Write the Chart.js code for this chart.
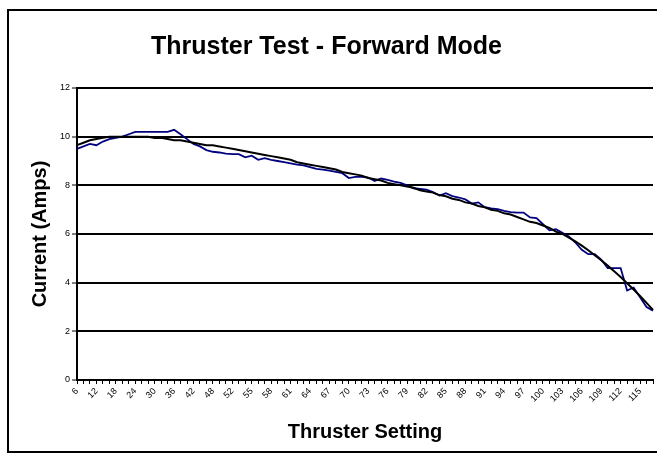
<!DOCTYPE html>
<html>
<head>
<meta charset="utf-8">
<script src="https://cdn.jsdelivr.net/npm/chart.js@4.4.1/dist/chart.umd.min.js"></script>
<style>
  html, body { margin: 0; padding: 0; background: #fff; }
  #wrap { width: 657px; height: 456px; }
</style>
</head>
<body>
<div id="wrap"><canvas id="thrusterChart" width="657" height="456"></canvas></div>
<script>
// thruster setting (x categories)
const settings = [
  6, 8, 10, 12, 14, 16, 18, 20, 22, 24, 26, 28, 30, 32, 34, 36, 38, 40, 42, 44, 46, 48,
  50, 51, 52, 53, 54, 55, 56, 57, 58, 59, 60, 61, 62, 63, 64, 65, 66, 67, 68, 69, 70,
  71, 72, 73, 74, 75, 76, 77, 78, 79, 80, 81, 82, 83, 84, 85, 86, 87, 88, 89, 90, 91,
  92, 93, 94, 95, 96, 97, 98, 99, 100, 101, 102, 103, 104, 105, 106, 107, 108, 109,
  110, 111, 112, 113, 114, 115, 116, 117
];

// measured current (blue)
const measured = [
  9.5, 9.6, 9.7, 9.65, 9.8, 9.9, 9.95, 10.0, 10.1, 10.2,
  10.2, 10.2, 10.2, 10.2, 10.2, 10.28, 10.1, 9.9, 9.7, 9.6,
  9.45, 9.38, 9.35, 9.3, 9.28, 9.28, 9.15, 9.22, 9.05, 9.12,
  9.05, 9.0, 8.95, 8.9, 8.85, 8.82, 8.75, 8.68, 8.65, 8.6,
  8.55, 8.5, 8.3, 8.35, 8.35, 8.32, 8.18, 8.28, 8.22, 8.15,
  8.1, 8.0, 7.88, 7.85, 7.82, 7.72, 7.58, 7.68, 7.56, 7.5,
  7.42, 7.25, 7.3, 7.1, 7.05, 7.02, 6.95, 6.9, 6.88, 6.88,
  6.68, 6.65, 6.4, 6.15, 6.2, 6.05, 5.9, 5.65, 5.35, 5.17,
  5.17, 4.95, 4.6, 4.6, 4.6, 3.68, 3.8, 3.4, 3.0, 2.85
];

// fitted curve (black)
const fitted = [
  9.65, 9.75, 9.85, 9.9, 9.95, 10.0, 10.0, 10.0, 10.0, 10.0,
  10.0, 10.0, 9.95, 9.95, 9.9, 9.85, 9.85, 9.8, 9.75, 9.7,
  9.65, 9.65, 9.6, 9.55, 9.5, 9.45, 9.4, 9.35, 9.3, 9.25,
  9.2, 9.15, 9.1, 9.05, 8.95, 8.9, 8.85, 8.8, 8.75, 8.7,
  8.65, 8.55, 8.5, 8.45, 8.4, 8.3, 8.25, 8.2, 8.1, 8.05,
  8.0, 7.95, 7.9, 7.8, 7.75, 7.7, 7.6, 7.55, 7.45, 7.4,
  7.3, 7.25, 7.15, 7.1, 7.0, 6.95, 6.85, 6.8, 6.7, 6.6,
  6.5, 6.45, 6.35, 6.25, 6.1, 6.0, 5.85, 5.7, 5.52, 5.33,
  5.13, 4.92, 4.7, 4.47, 4.23, 3.98, 3.72, 3.45, 3.17, 2.88
];

const yTicks = [0, 2, 4, 6, 8, 10, 12];

const FONT = '"Liberation Sans", Arial, sans-serif';

// white background + outer frame like the spreadsheet chart
const frame = {
  id: 'frame',
  beforeDraw(chart) {
    const ctx = chart.ctx;
    ctx.save();
    ctx.fillStyle = '#fff';
    ctx.fillRect(0, 0, chart.width, chart.height);
    ctx.strokeStyle = '#000';
    ctx.lineWidth = 2;
    ctx.strokeRect(8, 10, 700, 442);
    ctx.restore();
  }
};

new Chart(document.getElementById('thrusterChart'), {
  type: 'line',
  data: {
    labels: settings,
    datasets: [
      {
        label: 'Fit',
        data: fitted,
        borderColor: '#000',
        borderWidth: 2,
        pointRadius: 0,
        tension: 0,
        fill: false
      },
      {
        label: 'Measured',
        data: measured,
        borderColor: '#000080',
        borderWidth: 1.8,
        pointRadius: 0,
        tension: 0,
        fill: false
      }
    ]
  },
  options: {
    responsive: false,
    animation: false,
    devicePixelRatio: 1,
    layout: { padding: { left: 0, right: 4, top: 0, bottom: 0 } },
    plugins: {
      legend: { display: false },
      tooltip: { enabled: false },
      title: {
        display: true,
        text: 'Thruster Test - Forward Mode',
        color: '#000',
        font: { family: FONT, size: 25, weight: 'bold', lineHeight: 1.2 },
        padding: { top: 32, bottom: 26 }
      }
    },
    scales: {
      x: {
        offset: false,
        afterFit: s => { s.height = 76; s.paddingRight = 0; },
        border: { color: '#000', width: 2 },
        grid: { drawOnChartArea: false, color: '#000', tickLength: 4, tickWidth: 1 },
        ticks: {
          autoSkip: false,
          maxRotation: 45,
          minRotation: 45,
          padding: 2,
          color: '#000',
          font: { family: FONT, size: 9 },
          callback: (v, i) => (i % 3 === 0 ? settings[i] : '')
        },
        title: {
          display: true,
          text: 'Thruster Setting',
          color: '#000',
          font: { family: FONT, size: 20, weight: 'bold', lineHeight: 1.2 },
          padding: { top: 0, bottom: 12 }
        }
      },
      y: {
        min: 0,
        max: 12,
        afterFit: s => { s.width = 77; },
        afterBuildTicks: s => { s.ticks = yTicks.map(v => ({ value: v })); },
        border: { color: '#000', width: 2 },
        grid: { color: '#000', lineWidth: 2, tickLength: 5, tickWidth: 1, tickColor: '#000' },
        ticks: {
          padding: 2,
          color: '#000',
          font: { family: FONT, size: 9 }
        },
        title: {
          display: true,
          text: 'Current (Amps)',
          color: '#000',
          font: { family: FONT, size: 20, weight: 'bold', lineHeight: 1.2 },
          padding: { top: 28, bottom: 0 }
        }
      }
    }
  },
  plugins: [frame]
});
</script>
</body>
</html>
